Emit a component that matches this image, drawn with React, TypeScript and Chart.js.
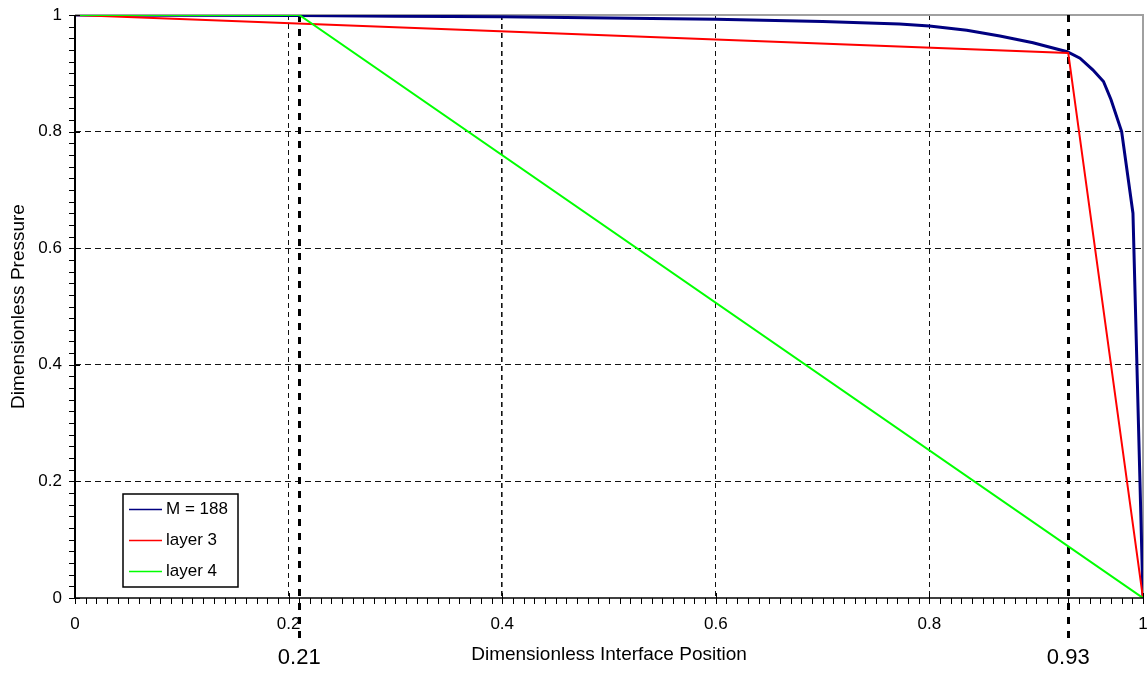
import React, { useEffect, useRef } from "react";
import { Chart, registerables } from "chart.js";

Chart.register(...registerables);

// ---- data ----
const seriesLabels = ["M = 188", "layer 3", "layer 4"];
const seriesColors = ["#000080", "#ff0000", "#00ff00"];

const mX = [0, 0.1, 0.21, 0.3, 0.4, 0.5, 0.6, 0.7, 0.772, 0.8, 0.835, 0.866, 0.897, 0.929, 0.941, 0.953, 0.963, 0.97, 0.98, 0.9906, 1.0];
const mY = [1, 0.9997, 0.999, 0.998, 0.997, 0.995, 0.9925, 0.989, 0.9846, 0.981, 0.974, 0.964, 0.9525, 0.937, 0.926, 0.906, 0.886, 0.855, 0.8, 0.66, 0];

const layer3X = [0, 0.93, 1];
const layer3Y = [1, 0.935, 0];

const layer4X = [0, 0.21, 1];
const layer4Y = [1, 1, 0];

const markerPositions = [0.21, 0.93];

const xTickValues = [0, 0.2, 0.4, 0.6, 0.8, 1];
const yTickValues = [0, 0.2, 0.4, 0.6, 0.8, 1];

const xTitle = "Dimensionless Interface Position";
const yTitle = "Dimensionless Pressure";

const FONT = "'Liberation Sans', Arial, Helvetica, sans-serif";

const toPoints = (xs: number[], ys: number[]) => xs.map((x, i) => ({ x, y: ys[i] }));

const decorPlugin = {
  id: "decor",
  beforeDatasetsDraw(chart: any) {
    const { ctx, chartArea: a } = chart;
    const xs = chart.scales.x;
    ctx.save();
    // gray frame top/right
    ctx.strokeStyle = "#a0a0a0";
    ctx.lineWidth = 2;
    ctx.beginPath();
    ctx.moveTo(a.left, a.top);
    ctx.lineTo(a.right, a.top);
    ctx.lineTo(a.right, a.bottom);
    ctx.stroke();
    // thick dashed markers
    ctx.strokeStyle = "#000";
    ctx.lineWidth = 3;
    ctx.setLineDash([7, 7]);
    markerPositions.forEach((m) => {
      const px = Math.round(xs.getPixelForValue(m)) + 0.5;
      ctx.beginPath();
      ctx.moveTo(px, a.top);
      ctx.lineTo(px, a.bottom + 45);
      ctx.stroke();
    });
    ctx.restore();
  },
  afterDatasetsDraw(chart: any) {
    const { ctx, chartArea: a } = chart;
    const xs = chart.scales.x;
    const ys = chart.scales.y;
    ctx.save();
    ctx.strokeStyle = "#000";
    // axes
    ctx.lineWidth = 2;
    ctx.beginPath();
    ctx.moveTo(a.left, a.top);
    ctx.lineTo(a.left, a.bottom + 1);
    ctx.stroke();
    ctx.lineWidth = 1.5;
    ctx.beginPath();
    ctx.moveTo(a.left - 1, a.bottom);
    ctx.lineTo(a.right, a.bottom);
    ctx.stroke();
    // x ticks every 0.01
    ctx.lineWidth = 1;
    for (let i = 0; i <= 100; i++) {
      const px = Math.round(xs.getPixelForValue(i / 100)) + 0.5;
      const major = i % 20 === 0;
      ctx.beginPath();
      ctx.moveTo(px, major ? a.bottom - 5 : a.bottom);
      ctx.lineTo(px, a.bottom + 6);
      ctx.stroke();
    }
    // y ticks every 0.02
    for (let i = 0; i <= 50; i++) {
      const py = Math.round(ys.getPixelForValue(i / 50)) + 0.5;
      const major = i % 10 === 0;
      ctx.beginPath();
      ctx.moveTo(a.left - 6, py);
      ctx.lineTo(major ? a.left + 5 : a.left, py);
      ctx.stroke();
    }
    ctx.restore();
  },
  afterDraw(chart: any) {
    const { ctx, chartArea: a } = chart;
    const xs = chart.scales.x;
    ctx.save();
    // marker labels
    ctx.fillStyle = "#000";
    ctx.font = `22px ${FONT}`;
    ctx.textAlign = "center";
    ctx.textBaseline = "middle";
    markerPositions.forEach((m) => {
      ctx.fillText(String(m), xs.getPixelForValue(m), a.bottom + 60);
    });
    // legend
    const bx = 123, by = 494, bw = 115, bh = 93;
    ctx.fillStyle = "#fff";
    ctx.fillRect(bx, by, bw, bh);
    ctx.strokeStyle = "#000";
    ctx.lineWidth = 1.5;
    ctx.strokeRect(bx, by, bw, bh);
    ctx.font = `17px ${FONT}`;
    ctx.textAlign = "left";
    chart.data.datasets.forEach((ds: any, i: number) => {
      const cy = by + 15 + i * 31;
      ctx.strokeStyle = ds.borderColor;
      ctx.lineWidth = 1.5;
      ctx.beginPath();
      ctx.moveTo(bx + 6, cy + 0.5);
      ctx.lineTo(bx + 39, cy + 0.5);
      ctx.stroke();
      ctx.fillStyle = "#000";
      ctx.fillText(ds.label, bx + 43, cy);
    });
    ctx.restore();
  },
};

export default function App() {
  const ref = useRef<HTMLCanvasElement | null>(null);
  useEffect(() => {
    if (!ref.current) return;
    const gridColor = (c: any) => {
      const v = c.tick ? c.tick.value : null;
      return v === 0 || v === 1 ? "rgba(0,0,0,0)" : "#111";
    };
    const chart = new Chart(ref.current, {
      type: "line",
      data: {
        datasets: [
          {
            label: seriesLabels[0],
            data: toPoints(mX, mY),
            borderColor: seriesColors[0],
            borderWidth: 3,
            pointRadius: 0,
            tension: 0,
            order: 2,
          },
          {
            label: seriesLabels[1],
            data: toPoints(layer3X, layer3Y),
            borderColor: seriesColors[1],
            borderWidth: 2,
            pointRadius: 0,
            tension: 0,
            order: 1,
          },
          {
            label: seriesLabels[2],
            data: toPoints(layer4X, layer4Y),
            borderColor: seriesColors[2],
            borderWidth: 2,
            pointRadius: 0,
            tension: 0,
            order: 0,
          },
        ],
      },
      options: {
        responsive: false,
        animation: false,
        events: [],
        layout: { padding: { top: 15, right: 5, left: 0, bottom: 0 } },
        plugins: { legend: { display: false }, tooltip: { enabled: false } },
        scales: {
          x: {
            type: "linear",
            min: 0,
            max: 1,
            afterBuildTicks: (s: any) => {
              s.ticks = xTickValues.map((v) => ({ value: v }));
            },
            afterFit: (s: any) => {
              s.height = 75;
              s.paddingLeft = 0;
              s.paddingRight = 0;
            },
            ticks: {
              autoSkip: false,
              maxRotation: 0,
              padding: 16,
              color: "#000",
              font: { family: FONT, size: 17 },
              callback: (v: any) => String(+Number(v).toFixed(2)),
            },
            grid: {
              drawTicks: false,
              color: gridColor,
              lineWidth: (c: any) => (c.tick && c.tick.value === 0.4 ? 1.6 : 1),
            },
            border: { display: false, dash: [5, 4] },
            title: {
              display: true,
              text: xTitle,
              color: "#000",
              font: { family: FONT, size: 19 },
              padding: { top: 0, bottom: 7 },
            },
          },
          y: {
            type: "linear",
            min: 0,
            max: 1,
            afterBuildTicks: (s: any) => {
              s.ticks = yTickValues.map((v) => ({ value: v }));
            },
            afterFit: (s: any) => {
              s.width = 75;
              s.paddingTop = 0;
              s.paddingBottom = 0;
            },
            ticks: {
              padding: 13,
              color: "#000",
              font: { family: FONT, size: 17 },
              callback: (v: any) => String(+Number(v).toFixed(2)),
            },
            grid: { drawTicks: false, color: gridColor, lineWidth: 1 },
            border: { display: false, dash: [6, 4] },
            title: {
              display: true,
              text: yTitle,
              color: "#000",
              font: { family: FONT, size: 19 },
              padding: { top: 7, bottom: 0 },
            },
          },
        },
      },
      plugins: [decorPlugin],
    } as any);
    return () => chart.destroy();
  }, []);
  return (
    <div style={{ position: "fixed", left: 0, top: 0, width: 1148, height: 673, background: "#fff" }}>
      <canvas ref={ref} width={1148} height={673} />
    </div>
  );
}
